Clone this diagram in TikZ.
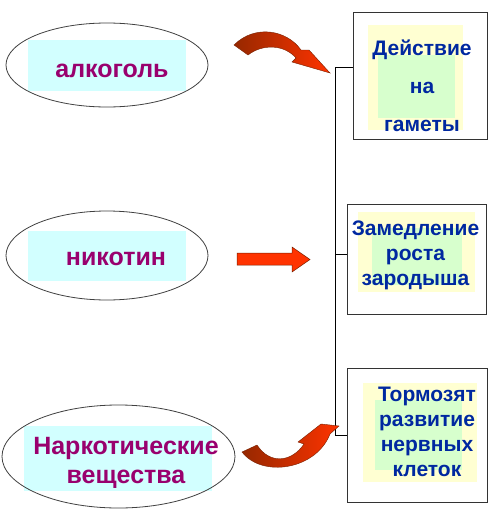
\documentclass[tikz,border=0pt]{standalone}
\usepackage{fontspec}
\setmainfont{Liberation Sans}
\usetikzlibrary{shapes.geometric}
\definecolor{purp}{RGB}{153,0,110}
\definecolor{navy}{RGB}{0,40,160}
\definecolor{cyanbg}{RGB}{210,255,255}
\definecolor{yelbg}{RGB}{255,255,210}
\definecolor{grnbg}{RGB}{215,255,205}
\definecolor{arrred}{RGB}{255,51,0}
\definecolor{arrbrown}{RGB}{150,40,0}
\begin{document}
\begin{tikzpicture}[x=1pt,y=-1pt,
  oval/.style={ellipse, draw=black!75, line width=0.8pt, inner sep=0pt},
  ovaltext/.style={font=\fontsize{25}{29}\selectfont\bfseries, text=purp, anchor=base, inner sep=0pt, align=center},
  outbox/.style={rectangle, draw=black!80, line width=0.8pt, inner sep=0pt},
  boxtext/.style={text=navy, anchor=base, inner sep=0pt, align=center},
  conn/.style={draw=black, line width=0.7pt},
  ribbon/.style={draw=arrbrown!80!black, line width=0.4pt, left color=arrbrown, right color=arrred},
  straightarr/.style={draw=arrbrown!80!black, line width=0.5pt, fill=arrred}]
\useasboundingbox (0,0) rectangle (500,522);
\fill[white] (0,0) rectangle (500,522);

% backgrounds behind ellipse texts
\fill[cyanbg] (28,40) rectangle (186,91);
\fill[cyanbg] (28,231) rectangle (186,281);
\fill[cyanbg] (24,426) rectangle (212,491);

% ellipses
\node[oval, minimum width=202pt, minimum height=84pt] (e1) at (107,65) {};
\node[oval, minimum width=202pt, minimum height=89pt] (e2) at (107,255.5) {};
\node[oval, minimum width=233pt, minimum height=103pt] (e3) at (118.5,456.5) {};

\node[ovaltext] (te1) at (112,77) {алкоголь};
\node[ovaltext] (te2) at (116,265) {никотин};
\node[ovaltext] (te3) at (126,483) {Наркотические\\вещества};

% box backgrounds
\fill[yelbg] (368,25) rectangle (463,130);
\fill[grnbg] (378,55) rectangle (455,118);
\fill[yelbg] (358,212) rectangle (475,292);
\fill[grnbg] (372,228) rectangle (462,285);
\fill[yelbg] (363,383) rectangle (477,482);
\fill[grnbg] (375,400) rectangle (462,470);

% boxes
\node[outbox, minimum width=134pt, minimum height=127pt] (b1) at (420,75.5) {};
\node[outbox, minimum width=139pt, minimum height=110pt] (b2) at (416.5,259) {};
\node[outbox, minimum width=140pt, minimum height=134pt] (b3) at (417,435) {};

\node[boxtext, font=\fontsize{21}{38}\selectfont\bfseries] (tb1) at (422,131) {Действие\\на\\гаметы};
\node[boxtext, font=\fontsize{21}{25}\selectfont\bfseries] (tb2) at (415.5,285) {Замедление\\роста\\зародыша};
\node[boxtext, font=\fontsize{21}{25}\selectfont\bfseries] (tb3) at (427,476) {Тормозят\\развитие\\нервных\\клеток};

% connector
\coordinate (j1) at (335,67);
\coordinate (j2) at (335,254);
\coordinate (j3) at (335,435);
\draw[conn] (j1 -| b1.west) -- (j1) -- (j3) -- (j3 -| b3.west);
\draw[conn] (j2) -- (j2 -| b2.west);

% arrows
\path[ribbon] (234,45) .. controls (255,24) and (287,30) .. (301,50) -- (309,50) -- (330,73) -- (292,62) -- (296,58) .. controls (284,44) and (262,44) .. (248,55) -- cycle;
\path[straightarr] (237,253) -- (292,253) -- (292,247) -- (310,259.5) -- (292,272) -- (292,265) -- (237,265) -- cycle;
\path[ribbon] (242,452) -- (257,445) .. controls (270,465) and (292,462) .. (304,444) -- (298,442) -- (321,424) -- (339,426) -- (330,434) .. controls (316,470) and (262,478) .. (242,452) -- cycle;
\end{tikzpicture}
\end{document}
